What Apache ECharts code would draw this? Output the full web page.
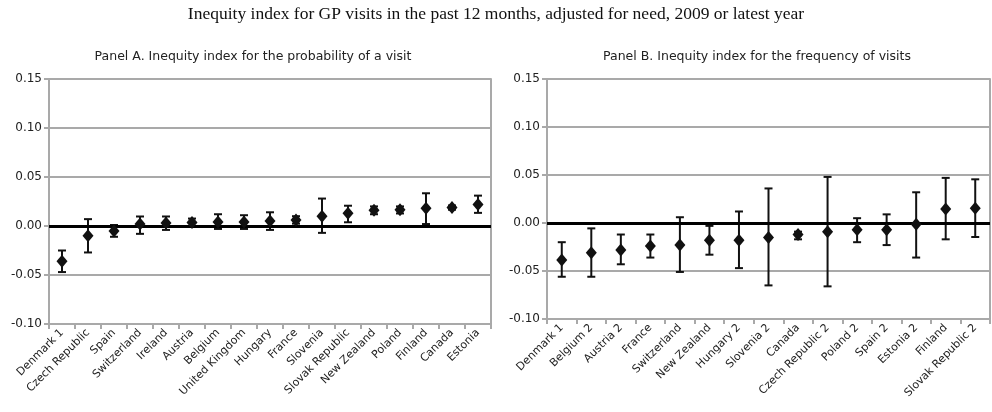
<!DOCTYPE html>
<html>
<head>
<meta charset="utf-8">
<script src="https://cdn.jsdelivr.net/npm/echarts/dist/echarts.min.js"></script>
<style>
html,body{margin:0;padding:0;background:#fff;}
#chart{width:992px;height:412px;}
</style>
</head>
<body>
<div id="chart"></div>
<script>
const titleText = 'Inequity index for GP visits in the past 12 months, adjusted for need, 2009 or latest year';
const panelATitle = 'Panel A. Inequity index for the probability of a visit';
const panelBTitle = 'Panel B. Inequity index for the frequency of visits';

const catsA = ['Denmark 1','Czech Republic','Spain','Switzerland','Ireland','Austria','Belgium','United Kingdom','Hungary','France','Slovenia','Slovak Republic','New Zealand','Poland','Finland','Canada','Estonia'];
const valA  = [-0.036,-0.010,-0.005,0.002,0.003,0.0035,0.004,0.004,0.005,0.006,0.010,0.013,0.016,0.0165,0.018,0.019,0.022];
const lowA  = [-0.047,-0.027,-0.011,-0.008,-0.004,-0.0007,-0.003,-0.003,-0.004,0.0024,-0.007,0.0038,0.012,0.0128,0.002,0.0166,0.0134];
const highA = [-0.025,0.007,0.001,0.0097,0.0097,0.0076,0.012,0.011,0.014,0.010,0.028,0.0207,0.020,0.020,0.0334,0.021,0.031];

const catsB = ['Denmark 1','Belgium 2','Austria 2','France','Switzerland','New Zealand','Hungary 2','Slovenia 2','Canada','Czech Republic 2','Poland 2','Spain 2','Estonia 2','Finland','Slovak Republic 2'];
const valB  = [-0.0385,-0.031,-0.028,-0.024,-0.023,-0.018,-0.018,-0.015,-0.012,-0.009,-0.007,-0.007,-0.0014,0.0146,0.0153];
const lowB  = [-0.056,-0.056,-0.043,-0.036,-0.051,-0.033,-0.047,-0.065,-0.017,-0.066,-0.020,-0.023,-0.036,-0.017,-0.0146];
const highB = [-0.020,-0.0056,-0.012,-0.012,0.006,-0.003,0.012,0.036,-0.009,0.048,0.005,0.009,0.032,0.047,0.0455];

const yMin = -0.10, yMax = 0.15, yStep = 0.05;

const gridColor = '#a9a9a9';
const labelFont = 'DejaVu Sans';

function errorBars(params, api) {
  const x = api.value(0);
  const lo = api.coord([x, api.value(1)]);
  const hi = api.coord([x, api.value(2)]);
  const cap = 4;
  const style = {stroke: '#111', lineWidth: 2};
  return {
    type: 'group',
    children: [
      {type: 'line', shape: {x1: lo[0], y1: lo[1], x2: hi[0], y2: hi[1]}, style: style},
      {type: 'line', shape: {x1: hi[0]-cap, y1: hi[1], x2: hi[0]+cap, y2: hi[1]}, style: style},
      {type: 'line', shape: {x1: lo[0]-cap, y1: lo[1], x2: lo[0]+cap, y2: lo[1]}, style: style}
    ]
  };
}

function xAxisCfg(cats, gi) {
  return {
    type: 'category', gridIndex: gi, data: cats,
    axisLine: {onZero: false, lineStyle: {color: gridColor, width: 2}},
    axisTick: {show: true, length: 5, lineStyle: {color: gridColor, width: 2}},
    axisLabel: {rotate: 45, interval: 0, fontFamily: labelFont, fontSize: 11, color: '#222', margin: 7},
    splitLine: {show: false}
  };
}
function yAxisCfg(gi) {
  return {
    type: 'value', gridIndex: gi, min: yMin, max: yMax, interval: yStep,
    axisLine: {show: true, lineStyle: {color: gridColor, width: 2}},
    axisTick: {show: true, length: 5, lineStyle: {color: gridColor, width: 2}},
    axisLabel: {formatter: v => v.toFixed(2), fontFamily: labelFont, fontSize: 12, color: '#222', margin: 7},
    splitLine: {show: true, lineStyle: {color: gridColor, width: 2}}
  };
}
function borderAxis(gi) {
  return {
    type: 'value', gridIndex: gi, min: yMin, max: yMax, interval: yStep, position: 'right',
    axisLine: {show: true, lineStyle: {color: gridColor, width: 2}},
    axisTick: {show: false}, axisLabel: {show: false}, splitLine: {show: false}
  };
}
function scatterSeries(vals, gi) {
  return {
    type: 'scatter', xAxisIndex: gi, yAxisIndex: gi * 2, data: vals,
    symbol: 'diamond', symbolSize: [11, 13],
    itemStyle: {color: '#111', opacity: 1}, z: 5, silent: true,
    markLine: {
      silent: true, symbol: ['none', 'none'], label: {show: false},
      lineStyle: {color: '#000', width: 3, type: 'solid', opacity: 1},
      data: [{yAxis: 0}]
    }
  };
}
function errSeries(low, high, gi) {
  return {
    type: 'custom', xAxisIndex: gi, yAxisIndex: gi * 2,
    data: low.map((l, i) => [i, l, high[i]]),
    encode: {x: 0, y: [1, 2]},
    renderItem: errorBars, z: 4, silent: true
  };
}

const chart = echarts.init(document.getElementById('chart'), null, {renderer: 'canvas'});
chart.setOption({
  animation: false,
  backgroundColor: '#fff',
  title: [
    {text: titleText, left: 'center', top: 0, textStyle: {fontFamily: 'Liberation Serif', fontSize: 17.5, fontWeight: 'normal', color: '#111'}},
    {text: panelATitle, left: 248, top: 45, textAlign: 'center', textStyle: {fontFamily: 'DejaVu Sans', fontSize: 12.5, fontWeight: 'normal', color: '#222'}},
    {text: panelBTitle, left: 752, top: 45, textAlign: 'center', textStyle: {fontFamily: 'DejaVu Sans', fontSize: 12.5, fontWeight: 'normal', color: '#222'}}
  ],
  grid: [
    {left: 49, right: 501, top: 79, bottom: 88},
    {left: 547, right: 2, top: 79, bottom: 93}
  ],
  xAxis: [xAxisCfg(catsA, 0), xAxisCfg(catsB, 1)],
  yAxis: [yAxisCfg(0), borderAxis(0), yAxisCfg(1), borderAxis(1)],
  series: [
    errSeries(lowA, highA, 0), scatterSeries(valA, 0),
    errSeries(lowB, highB, 1), scatterSeries(valB, 1)
  ]
});
</script>
</body>
</html>
